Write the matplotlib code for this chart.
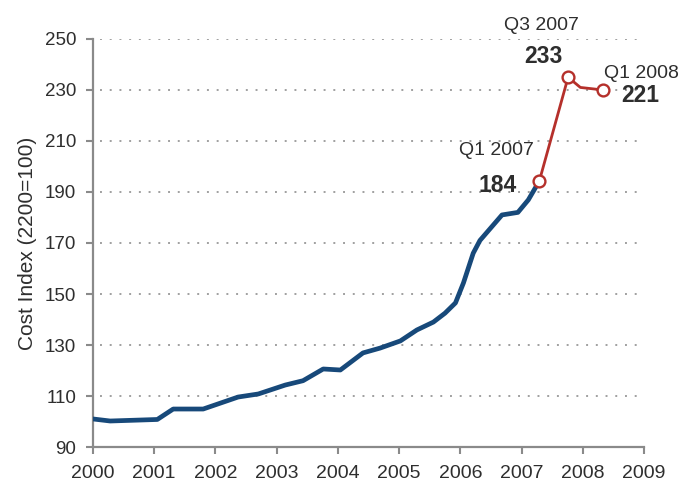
import matplotlib
matplotlib.use("Agg")
import matplotlib.pyplot as plt

# blue series (decimal year, index value)
BLUE_YEARS = [2000.00, 2000.28, 2001.05, 2001.31, 2001.80, 2002.37, 2002.70,
              2003.14, 2003.43, 2003.76, 2004.04, 2004.41, 2004.69, 2005.02,
              2005.29, 2005.56, 2005.75, 2005.92, 2006.05, 2006.21, 2006.32,
              2006.68, 2006.94, 2007.11, 2007.29]
BLUE_VALUES = [101.0, 100.2, 100.8, 104.9, 104.9, 109.6, 110.8,
               114.3, 116.0, 120.6, 120.2, 126.9, 128.8, 131.6,
               135.9, 139.0, 142.5, 146.5, 154.3, 166.0, 171.0,
               181.0, 182.0, 186.9, 194.3]

# red series
RED_YEARS = [2007.29, 2007.76, 2007.96, 2008.33]
RED_VALUES = [194.3, 235.0, 231.0, 230.0]

# highlighted points and their labels
MARK_YEARS = [2007.29, 2007.76, 2008.33]
MARK_VALUES = [194.3, 235.0, 230.0]
MARK_PERIODS = ["Q1 2007", "Q3 2007", "Q1 2008"]
MARK_LABELS = ["184", "233", "221"]

X_TICKS = list(range(2000, 2010))
Y_TICKS = list(range(90, 251, 20))
Y_LABEL = "Cost Index (2200=100)"

BLUE = "#17497a"
RED = "#b5302b"
TEXT = "#2e2e2e"
AXIS = "#8a8a8a"

plt.rcParams["font.family"] = ["Liberation Sans", "DejaVu Sans"]

fig = plt.figure(figsize=(6.86, 4.83), dpi=100)
ax = fig.add_axes([0.1356, 0.0745, 0.8032, 0.8448])

ax.set_xlim(2000, 2009)
ax.set_ylim(90, 250)

# dotted gridlines (not at the bottom value)
for y in Y_TICKS[1:]:
    ax.hlines(y, 2000.12, 2008.95, colors="#a0a0a0", linestyles=(0, (1, 4)),
              lw=1.4, zorder=1)

ax.plot(BLUE_YEARS, BLUE_VALUES, color=BLUE, lw=3.4, solid_joinstyle="round",
        solid_capstyle="round", zorder=3)
ax.plot(RED_YEARS, RED_VALUES, color=RED, lw=2.0, solid_joinstyle="round",
        zorder=4)
ax.plot(MARK_YEARS, MARK_VALUES, ls="none", marker="o", ms=8.5,
        mfc="white", mec=RED, mew=1.7, zorder=5)

# annotation offsets in points: (period label, value label)
offsets = [((-31, 22), (-30, -3)),
           ((-19, 37), (-18, 15)),
           ((28, 12), (27, -4))]
for x, y, per, lab, (op, ol) in zip(MARK_YEARS, MARK_VALUES, MARK_PERIODS,
                                    MARK_LABELS, offsets):
    ax.annotate(per, (x, y), xytext=op, textcoords="offset points",
                ha="center", va="center", fontsize=14, color=TEXT)
    ax.annotate(lab, (x, y), xytext=ol, textcoords="offset points",
                ha="center", va="center", fontsize=16.5, fontweight="bold",
                color=TEXT)

ax.set_xticks(X_TICKS)
ax.set_yticks(Y_TICKS)
ax.tick_params(axis="both", colors=AXIS, labelcolor=TEXT, length=5, width=1.5)
ax.tick_params(axis="y", pad=7, labelsize=13.5)
ax.tick_params(axis="x", pad=8, labelsize=14)

for side in ("top", "right"):
    ax.spines[side].set_visible(False)
for side in ("left", "bottom"):
    ax.spines[side].set_color(AXIS)
    ax.spines[side].set_linewidth(1.6)

ax.set_ylabel(Y_LABEL, fontsize=15, color=TEXT, labelpad=6)

fig.savefig("out.png", dpi=100)
